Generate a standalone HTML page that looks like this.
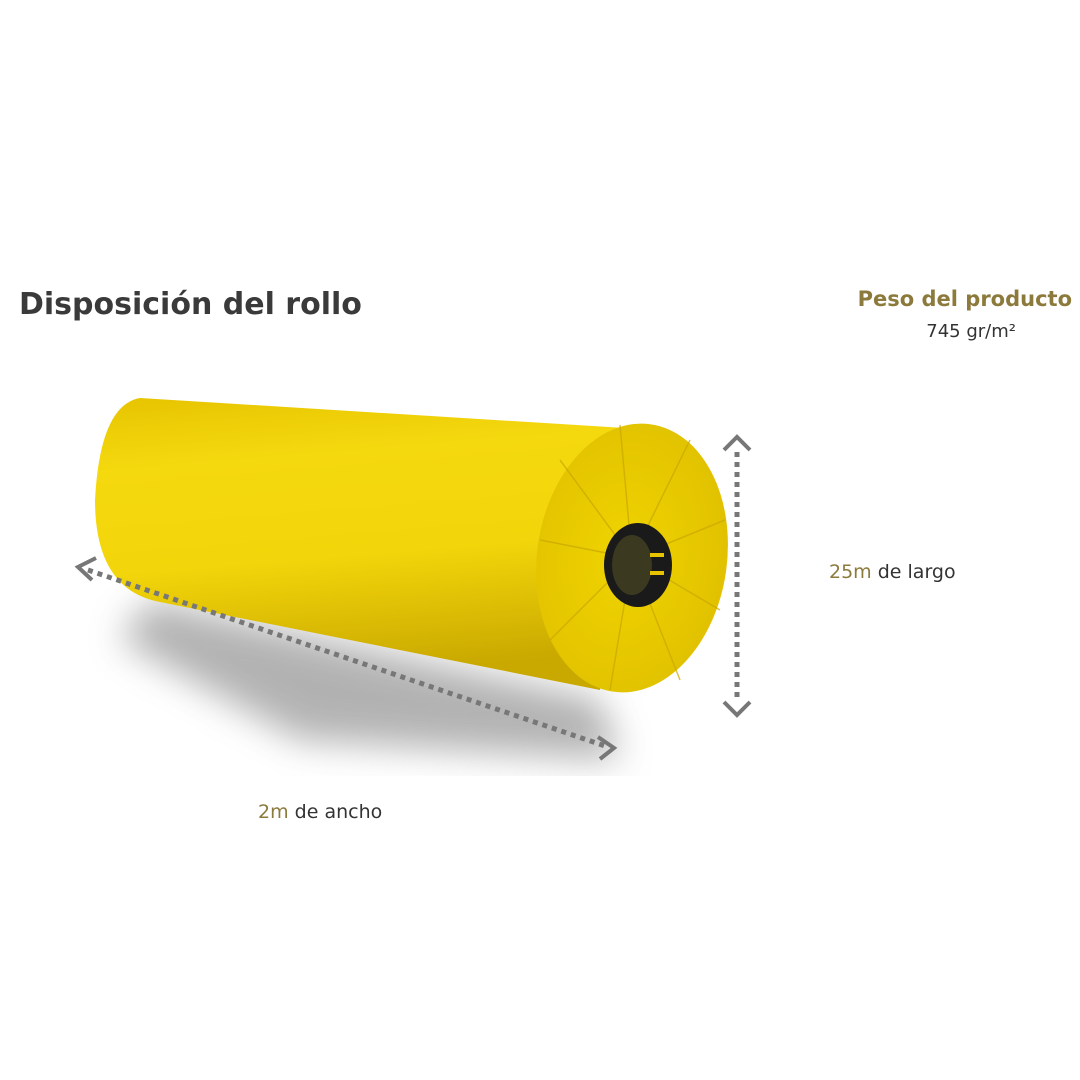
<!DOCTYPE html>
<html><head><meta charset="utf-8"><style>
body{margin:0;width:1080px;height:1080px;background:#fff;overflow:hidden;font-family:"DejaVu Sans","Liberation Sans",sans-serif;}
.t{position:absolute;white-space:nowrap;}
</style></head><body>
<svg width="1080" height="1080" style="position:absolute;left:0;top:0">
<defs>
<linearGradient id="body" x1="0" y1="0" x2="0.15" y2="1">
<stop offset="0" stop-color="#e6c400"/><stop offset="0.25" stop-color="#f5d90f"/><stop offset="0.6" stop-color="#f2d50a"/><stop offset="1" stop-color="#c9a800"/></linearGradient>
<radialGradient id="face" cx="0.45" cy="0.5" r="0.6"><stop offset="0" stop-color="#f0d400"/><stop offset="1" stop-color="#e0c000"/></radialGradient>
<filter id="blur"><feGaussianBlur stdDeviation="18"/></filter>
</defs>
<path d="M150 600 L600 700 L620 760 L300 740 L120 640 Z" fill="#666" opacity="0.5" filter="url(#blur)"/>
<path d="M140 398 L625 428 L600 690 L160 602 Q95 590 95 500 Q100 405 140 398 Z" fill="url(#body)"/>
<ellipse cx="632" cy="558" rx="95" ry="135" transform="rotate(8 632 558)" fill="url(#face)"/>
<g stroke="#c9a800" stroke-width="1.5" opacity="0.7">
<line x1="632" y1="558" x2="620" y2="425"/><line x1="632" y1="558" x2="690" y2="440"/><line x1="632" y1="558" x2="725" y2="520"/><line x1="632" y1="558" x2="720" y2="610"/><line x1="632" y1="558" x2="680" y2="680"/><line x1="632" y1="558" x2="610" y2="690"/><line x1="632" y1="558" x2="550" y2="640"/><line x1="632" y1="558" x2="540" y2="540"/><line x1="632" y1="558" x2="560" y2="460"/>
</g>
<ellipse cx="638" cy="565" rx="34" ry="42" fill="#1a1a1a"/>
<ellipse cx="632" cy="565" rx="20" ry="30" fill="#3b3a20"/>
<rect x="650" y="553" width="14" height="4" fill="#e6c400"/><rect x="650" y="571" width="14" height="4" fill="#e6c400"/>
<g stroke="#777" stroke-width="5" fill="none">
<line x1="88" y1="570" x2="605" y2="746" stroke-dasharray="5 5"/>
<polyline points="96,558 78,567 92,580" stroke-width="4"/>
<polyline points="598,737 614,748 600,759" stroke-width="4"/>
<line x1="737" y1="452" x2="737" y2="700" stroke-dasharray="5 5"/>
<polyline points="724,450 737,437 750,450" stroke-width="4"/>
<polyline points="724,702 737,715 750,702" stroke-width="4"/>
</g>
</svg>
<div class="t" style="left:19px;top:287px;font-size:30px;font-weight:bold;color:#3a3a3a">Disposición del rollo</div>
<div class="t" style="right:8px;top:287px;font-size:21px;font-weight:bold;color:#8c7a3c">Peso del producto</div>
<div class="t" style="right:64px;top:321px;font-size:18px;color:#333">745 gr/m²</div>
<div class="t" style="left:829px;top:561px;font-size:19px;color:#333"><span style="color:#8c7a3c">25m</span> de largo</div>
<div class="t" style="left:258px;top:801px;font-size:19px;color:#333"><span style="color:#8c7a3c">2m</span> de ancho</div>
</body></html>
